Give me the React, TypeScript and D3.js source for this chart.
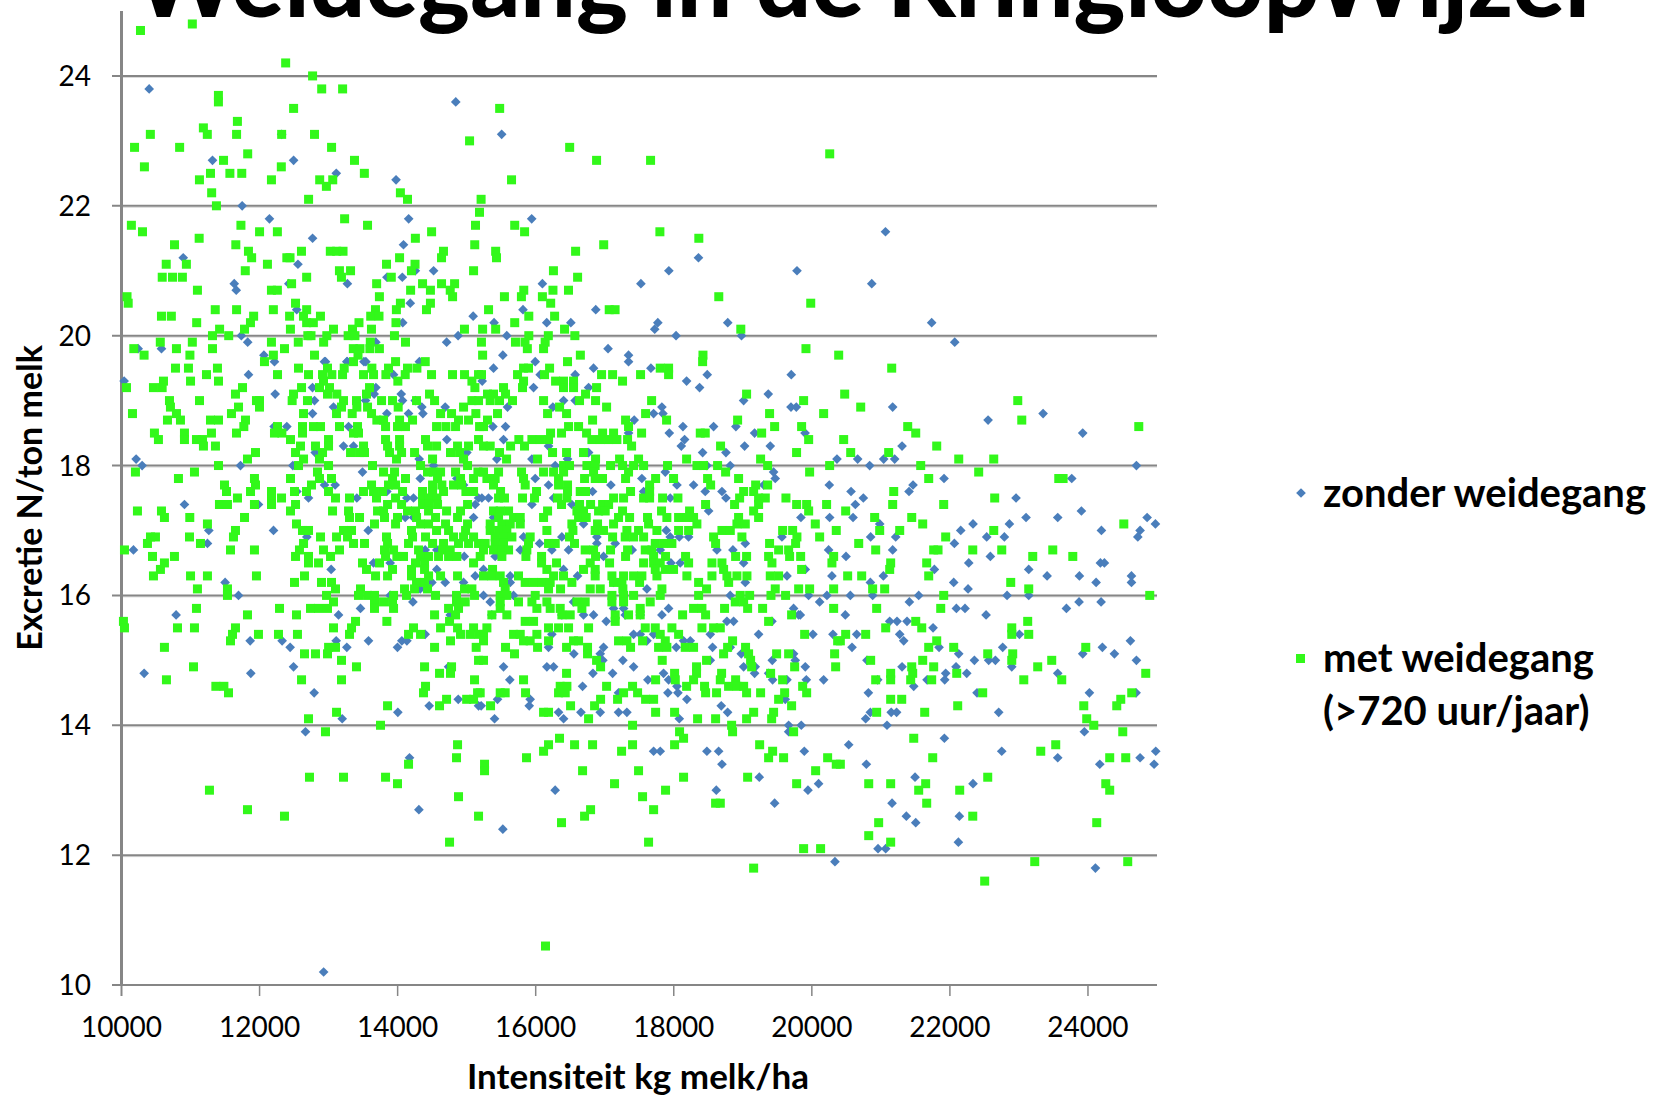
import * as d3 from "d3";

// Each row: excretie value, then the intensiteit values of the points on that level
type Row = [number, number[]];

const xTicks = [10000, 12000, 14000, 16000, 18000, 20000, 22000, 24000];
const yTicks = [10, 12, 14, 16, 18, 20, 22, 24];

const title = "Weidegang in de KringloopWijzer";
const xTitle = "Intensiteit kg melk/ha";
const yTitle = "Excretie N/ton melk";
const legendZonder = ["zonder weidegang"];
const legendMet = ["met weidegang", "(>720 uur/jaar)"];

// zonder weidegang
const zonderHoog: Row[] = [
  [23.8, [10401]], [23.6, [14842]], [23.1, [15507, 12320]], [22.7, [11318, 12493]], [22.5, [13111]],
  [22.4, [13977]], [22.0, [11748]], [21.8, [12143, 14160, 15942]], [21.6, [21067]], [21.5, [12768]],
  [21.4, [14085]], [21.2, [10894, 18358]], [21.1, [12556]], [21.0, [14257, 14521, 17929, 19785]],
  [20.9, [13845, 14068]], [20.8, [11633, 12424, 13272, 16097, 17524, 20868]], [20.7, [11662]],
  [20.5, [14183]], [20.4, [12538, 15816, 16870]], [20.3, [15094]],
  [20.2, [14074, 15397, 16160, 16509, 17769, 18782, 21736]], [20.1, [17724]],
  [20.0, [11736, 14876, 15581, 18033, 18981]], [19.9, [11828, 13684, 14710, 22070]],
  [19.8, [10241, 10579, 17048]], [19.7, [12063, 15524, 17345]],
];
const zonderMidden: Row[] = [
  [19.6, [12216, 12955, 13264, 13540, 12940, 13272, 13512, 14315, 15993, 17345]],
  [19.5, [15389, 16838, 17669]], [19.4, [11840, 13941, 16065, 16572, 18485, 19702]],
  [19.3, [10038, 15225, 18186]], [19.2, [12767, 13685, 15969, 16766, 18374]],
  [19.1, [12226, 13660, 14052, 19369]], [19.0, [12796, 13535, 14071, 14255, 16404, 16572, 19012]],
  [18.9, [13071, 14351, 14689, 15592, 16249, 17828, 19698, 19775, 21171]],
  [18.8, [12767, 13844, 14158, 14366, 17708, 17843, 23350]], [18.7, [17427, 22553]],
  [18.6, [12395, 12211, 13289, 15380, 15563, 18133, 18577, 18900]],
  [18.5, [17345, 17935, 19171, 19902, 23924]], [18.4, [14713, 15534, 18157]],
  [18.3, [13216, 13361, 16186, 18109, 19026, 19398, 21307]], [18.2, [12806, 15003, 16766, 18418, 18756]],
  [18.1, [10212, 14312, 14955, 15437, 15945, 16461, 20364, 20664, 21041, 21200]],
  [18.0, [10299, 11724, 12482, 14520, 16283, 17563, 18480, 18818, 20838, 24702]],
  [17.9, [13491, 17877, 19446]], [17.8, [14327, 14858, 15993, 17538, 19470, 21915, 23765]],
  [17.7, [12941, 13095, 14955, 16186, 17089, 18046, 18287, 19301, 20253, 21466]],
  [17.6, [12540, 13844, 16824, 17563, 18456, 18698, 20568, 21408]],
  [17.5, [12709, 13409, 14133, 14230, 15172, 15220, 15317, 16259, 17949, 18756, 20746, 22958]],
  [17.4, [10912, 11984, 15124, 15945, 16524, 20630]], [17.3, [18505, 23905]],
  [17.2, [14110, 14230, 15100, 15389, 19842, 20258, 20597, 23103, 23562, 24857]],
  [17.1, [16693, 20983, 22335, 22862, 24977]], [17.0, [11265, 12202, 13574, 17891, 22157, 24195, 24755]],
  [16.9, [12685, 15824, 16379, 16886, 17949, 18080, 18215, 19567, 20852, 21215, 22533, 22789, 24722]],
  [16.8, [11245, 16056, 16886, 17152, 19036, 22065]],
  [16.7, [10173, 14399, 14568, 15776, 16234, 16476, 17398, 17804, 18625, 18857, 20243, 21171]],
  [16.6, [14965, 15413, 16983, 20495, 22586]], [16.5, [13651, 13892, 17959, 18094, 19012, 22273, 24180, 24238]],
  [16.4, [13037, 14568, 15244, 16403, 19905, 21775, 23142]],
  [16.3, [15124, 15631, 16606, 19640, 20291, 21036, 23408, 23876, 24630]],
  [16.2, [11501, 14496, 14689, 14955, 15631, 17128, 19036, 20848, 22055, 24118, 24630]],
  [16.1, [14327, 17611, 22263]], [16.0, [11695, 13892, 15244, 15679, 18818, 19953, 20219, 20558, 20881, 21548, 22828, 23142]],
  [15.9, [14221, 15341, 16548, 20113, 21413, 23871, 24190]],
  [15.8, [13462, 17128, 17273, 17925, 19736, 22094, 22219, 23688]],
  [15.7, [10791, 13144, 14762, 15365, 16379, 16693, 16838, 17297, 17514, 17828, 19808, 19833, 20485, 22524]],
];
const zonderLaag: Row[] = [
  [15.6, [17022, 18770, 18867, 19422, 21128, 21234, 21379]], [15.5, [21756]],
  [15.4, [14399, 16234, 17418, 17514, 17708, 18529, 19229, 20016, 20306, 20650, 21273, 23007]],
  [15.3, [11864, 12327, 13110, 13578, 14061, 14134, 17611, 18142, 18239, 21331, 24615]],
  [15.2, [12443, 13264, 13998, 16186, 16983, 18036, 18562, 18818, 20582, 21843, 22765, 24209]],
  [15.1, [16553, 16935, 18978, 19736, 22128, 23924, 24383]],
  [15.0, [16973, 17263, 18529, 19427, 19760, 20799, 22355, 22562, 22659, 24702]],
  [14.9, [12492, 14738, 15534, 16162, 16259, 17418, 19012, 19180, 19905, 21307, 22089, 22896]],
  [14.8, [10328, 11873, 16829, 17114, 17852, 19171, 19374, 21939, 22244, 23562]],
  [14.7, [15625, 17625, 17925, 19432, 19640, 19920, 20171, 20954, 21669, 21925]],
  [14.6, [16679, 18046, 21476]], [14.5, [12791, 17200, 17915, 18060, 20819, 22393, 24021, 24697]],
  [14.4, [14878, 15447, 15920, 18190, 19615]], [14.3, [14457, 15172, 15210, 15906, 18688]],
  [14.2, [14003, 16331, 16655, 16935, 17200, 17321, 18780, 20848, 21150, 21228, 22707]],
  [14.1, [13197, 15404, 16404, 18080, 20780]], [14.0, [19664, 19847, 21089]], [13.9, [12665, 19664, 23948]],
  [13.8, [21920]], [13.7, [20534]], [13.6, [17708, 17804, 18480, 18650, 19891, 22751, 24982]],
  [13.5, [14172, 23562, 24755]], [13.4, [18698, 20790, 24171, 24958]], [13.2, [19239, 21495]],
  [13.1, [20098, 22335]], [13.0, [16282, 18616, 19944]], [12.8, [19461, 21162]], [12.7, [14308]],
  [12.6, [21369, 22137]], [12.5, [21505]], [12.4, [15524]], [12.2, [22123]], [12.1, [20959, 21070]],
  [11.9, [20335]], [11.8, [24108]], [10.2, [12928]],
];

// met weidegang (>720 uur/jaar)
const metHoog: Row[] = [
  [24.8, [11026]], [24.7, [10275]], [24.2, [12378]], [24.0, [12768]], [23.8, [12900, 13203]],
  [23.7, [11404]], [23.6, [11404]], [23.5, [12493, 15478]], [23.3, [11679]], [23.2, [11186]],
  [23.1, [10418, 11243, 11667, 12320, 12796]], [23.0, [15042]], [22.9, [10189, 10842, 13043, 16492]],
  [22.8, [11828, 20259]], [22.7, [11478, 13375, 16882, 17664]], [22.6, [10332, 12315]],
  [22.5, [11289, 11570, 11742, 13518]], [22.4, [11129, 12172, 12871, 13060, 15650]], [22.3, [12968]],
  [22.2, [11306, 14040]], [22.1, [12710, 14143, 15209]], [22.0, [11375]], [21.9, [15186]], [21.8, [13232]],
  [21.7, [10143, 11730, 13564, 15128, 15696]], [21.6, [10304, 12000, 12258, 14492, 15839, 17799]],
  [21.5, [11125, 14257, 18363]], [21.4, [10768, 11656, 15117, 16985]],
  [21.3, [11839, 12607, 13025, 13117, 13209, 14664, 15420, 16578]],
  [21.2, [11885, 12395, 12441, 14028, 14636, 15432]], [21.1, [10648, 10940, 12114, 13839, 14252]],
  [21.0, [11793, 13157, 13318, 14200, 15100, 16257]],
  [20.9, [10590, 10739, 10882, 12682, 13186, 13908, 16607]],
  [20.8, [12464, 13696, 14361, 14636, 14825]],
  [20.7, [11100, 12172, 12258, 14188, 14475, 14762, 15827, 16250, 16475]],
  [20.6, [10080, 13736, 14796, 15547, 15793, 16097, 18652]],
  [20.5, [10097, 12521, 14040, 14475, 16217, 19984]],
  [20.4, [11358, 11667, 12200, 12682, 13679, 13982, 14418, 15317, 17065, 17150]],
  [20.3, [10579, 10722, 11914, 12435, 12636, 12882, 13610, 13730, 15900, 16274]],
  [20.2, [11089, 11868, 12682, 12779, 13976, 15696, 13440]],
  [20.1, [11421, 11782, 12447, 13071, 13346, 13621, 14968, 15231, 15420, 16418, 18971]],
  [20.0, [11318, 11553, 12699, 12745, 12974, 13283, 13381, 13954, 15900, 16183, 16567]],
  [19.9, [10562, 11026, 12172, 12561, 12928, 13604, 14114, 15214, 15707, 15845, 16137]],
  [19.8, [10178, 10796, 11318, 12361, 13358, 13455, 13598, 13736, 15879, 16114, 19915]],
  [19.7, [10327, 10991, 12200, 12796, 13426, 15231, 16647, 18423, 20389]],
];
const metMidden: Row[] = [
  [19.6, [12071, 13361, 13970, 14400, 16461, 18418]],
  [19.5, [10782, 10970, 11390, 12564, 12984, 13226, 13627, 13868, 14143, 14279, 15824, 15896, 16201, 17804, 17925, 21157]],
  [19.4, [11231, 12260, 12709, 12912, 13047, 13202, 13506, 13651, 13830, 14110, 14491, 14795, 14969, 15172, 15215, 15737, 16128, 16954, 17114, 17519, 17925]],
  [19.3, [10608, 11000, 11405, 12926, 14003, 15076, 15824, 16288, 16403, 16548, 17258]],
  [19.2, [10072, 10463, 10589, 11753, 12608, 12868, 13013, 13593, 15119, 15534, 15809, 16403, 16548, 16882]],
  [19.1, [11651, 12492, 12984, 13119, 13549, 14462, 15302, 15389, 15563, 16722, 19055, 20476]],
  [19.0, [10695, 11130, 11955, 11999, 12472, 12694, 13216, 13404, 13767, 13926, 14274, 14535, 15076, 15172, 15341, 15476, 15664, 16114, 16635, 16867, 17679, 19881, 22983]],
  [18.9, [10709, 11695, 11999, 13187, 13409, 13564, 14008, 14955, 16346, 17027, 20708]],
  [18.8, [10159, 10796, 11593, 12637, 13115, 13342, 13622, 14622, 14781, 15133, 15447, 16172, 16447, 17592, 19388, 20171]],
  [18.7, [10666, 10854, 11289, 11405, 11796, 13699, 13796, 14028, 14216, 14882, 15027, 15302, 16824, 17302, 17896, 18925, 23041]],
  [18.6, [11772, 12260, 12622, 12781, 12883, 13158, 13419, 13825, 13998, 14114, 14564, 14699, 14839, 15187, 15244, 16476, 16621, 17345, 19461, 19852, 21389, 24736]],
  [18.5, [10477, 10912, 11303, 11666, 12216, 12323, 12622, 13361, 13433, 16215, 16374, 16737, 16969, 17128, 17534, 18384, 18456, 19273, 21505]],
  [18.4, [10535, 10912, 11086, 11173, 12448, 12999, 13825, 14028, 14404, 15172, 15756, 15945, 16065, 16186, 16814, 16935, 17055, 17176, 17331, 19954, 20461]],
  [18.3, [11187, 11361, 12593, 12810, 12999, 13506, 13854, 14028, 14433, 14564, 14868, 15027, 15244, 15341, 15636, 15838, 17389, 18678, 21809]],
  [18.2, [11941, 12521, 12912, 13318, 13448, 13520, 13883, 14057, 14245, 14766, 14897, 15476, 16244, 16447, 16693, 19779, 20563, 21113]],
  [18.1, [11825, 12637, 12868, 13984, 14506, 14955, 15578, 16027, 16867, 17215, 17490, 18186, 19258, 22128, 22635]],
  [18.0, [11405, 12564, 12999, 13636, 14332, 15013, 16404, 16490, 16742, 16862, 17084, 17258, 17418, 17563, 17910, 18336, 18432, 18635, 19360, 20258, 21577]],
  [17.9, [10202, 11057, 12839, 13796, 13955, 14433, 14520, 14622, 14839, 15163, 15244, 15462, 15795, 16114, 16259, 16404, 16838, 17345, 18751, 19968, 22417]],
  [17.8, [10825, 11926, 12448, 12868, 13042, 13926, 14114, 14578, 14911, 15100, 15293, 15413, 15824, 16331, 16708, 16862, 16968, 17302, 17737, 17997, 18490, 18939, 21693, 23577, 23640]],
  [17.7, [11492, 11941, 12752, 13622, 13868, 13970, 14506, 14641, 14810, 14926, 15389, 15848, 16331, 16461, 17650, 18534, 19186, 19360]],
  [17.6, [11521, 11869, 12173, 12506, 12680, 12999, 13506, 13651, 13781, 14071, 14361, 14506, 14665, 14989, 15100, 15491, 16012, 16461, 16645, 16722, 17374, 17650, 19012, 19157, 21186]],
  [17.5, [11680, 12173, 12318, 13100, 13303, 13694, 13970, 14361, 14448, 14569, 15462, 15548, 15809, 15983, 16317, 16452, 17128, 17273, 17563, 17650, 17838, 18060, 18954, 19229, 19326, 19625, 22649]],
  [17.4, [11419, 11535, 11926, 12173, 12521, 13854, 14057, 14361, 14448, 14578, 15013, 16374, 16635, 16795, 16969, 17056, 18461, 18881, 19229, 19780, 19925, 20214, 21171, 21910]],
  [17.3, [10231, 10579, 12448, 13057, 13289, 13709, 13796, 14143, 14259, 14448, 14709, 14911, 15389, 15486, 15607, 16172, 16597, 16693, 16911, 17007, 17258, 17823, 18229, 19157, 19954, 20490]],
  [17.2, [10622, 10989, 11782, 13303, 13448, 13810, 13998, 14274, 14549, 14868, 15462, 15679, 15776, 16114, 16621, 16732, 17200, 17360, 17620, 17900, 18070, 18191, 18287, 18939, 19229, 20910, 21447]],
  [17.1, [11245, 12535, 13665, 13970, 14332, 14448, 14694, 15013, 15341, 15510, 15631, 15776, 16524, 16896, 17128, 17635, 18335, 18915, 19036, 20050, 21606, 24519]],
  [17.0, [11651, 12622, 12709, 13216, 13332, 14201, 14564, 14738, 14984, 15341, 15462, 15582, 16162, 16539, 16862, 16983, 17321, 17490, 17756, 18070, 18215, 18698, 18819, 19577, 19722, 20354, 20983, 21273, 22635]],
  [16.9, [10420, 10492, 10985, 11622, 12883, 13115, 13274, 13839, 14216, 14404, 14810, 14955, 15100, 15413, 15534, 15655, 15920, 16490, 17114, 17297, 17418, 17563, 18577, 18987, 19784, 20113, 21939]],
  [16.8, [10376, 11144, 12637, 13361, 13520, 13854, 14158, 14506, 14665, 14882, 15027, 15172, 15268, 15413, 15534, 15896, 16186, 16283, 16562, 17732, 17853, 17973, 18606, 19388, 19765, 20679]],
  [16.7, [10043, 11579, 11926, 12578, 12926, 13158, 13810, 13941, 14303, 14651, 14762, 15244, 15389, 15510, 15607, 15872, 16717, 16838, 17084, 17331, 17587, 17683, 19519, 19664, 20925, 21765, 21828, 22331, 22751, 23490]],
  [16.6, [10449, 10767, 12521, 12709, 13028, 13825, 13989, 14085, 14332, 14448, 14593, 14738, 14858, 15196, 15510, 15858, 16085, 16867, 17302, 17708, 17881, 18171, 18896, 19055, 19374, 19678, 19838, 20316, 23200, 23780]],
  [16.5, [10622, 12709, 12854, 13491, 13738, 14259, 14390, 15100, 16085, 16302, 16790, 17070, 17563, 17708, 17804, 18215, 18553, 18698, 19422, 20291, 21142, 21664]],
  [16.4, [10564, 13549, 13926, 14201, 14390, 15375, 16162, 16693, 16862, 17732, 17877, 17997, 18722, 19852, 21128]],
  [16.3, [10463, 11000, 11245, 11955, 12651, 13680, 13854, 14201, 14448, 14622, 14868, 15244, 15365, 15486, 15751, 16259, 16403, 16862, 17104, 17273, 17418, 17538, 17756, 18190, 18553, 18770, 18915, 19060, 19398, 19519, 20519, 20722, 21693]],
  [16.2, [12506, 12897, 13042, 14274, 14390, 15534, 15848, 15969, 16090, 16210, 16524, 17128, 17249, 17505, 18360, 18795, 22881]],
  [16.1, [11100, 11535, 13100, 13462, 14100, 14245, 14433, 14969, 15076, 15558, 16186, 16360, 16790, 16935, 17263, 17828, 18475, 19470, 19809, 19968, 20316, 20881, 21055, 23142]],
  [16.0, [11535, 12970, 13433, 13564, 13665, 13941, 14129, 14549, 14853, 15114, 15486, 15582, 15993, 17104, 17273, 17418, 17804, 18360, 18963, 19099, 19408, 19620, 21910, 24895]],
  [15.9, [13071, 13665, 13796, 13926, 14853, 14979, 15486, 15751, 15945, 16162, 16597, 16717, 17104, 17273, 17659, 18891, 19012]],
  [15.8, [11086, 12289, 12738, 12854, 12984, 13665, 13941, 14738, 14882, 15486, 16017, 16210, 16355, 16669, 17514, 18287, 18408, 18736, 19070, 19287, 20316, 20939, 21867]],
  [15.7, [11825, 12535, 14535, 14839, 15365, 15582, 16379, 16500, 17152, 17345, 17514, 18128, 18461, 19707]],
];
const metLaag: Row[] = [
  [15.6, [10028, 13390, 13844, 14752, 15848, 15969, 17152, 19374, 21505, 23127]],
  [15.5, [10043, 10811, 11057, 11651, 13071, 13332, 14230, 14622, 14868, 15100, 15293, 16186, 16331, 16476, 16766, 17587, 17732, 17973, 18408, 18577, 18674, 21070, 21592, 22896]],
  [15.4, [11608, 11984, 12274, 12549, 13303, 14158, 14332, 14911, 15050, 15172, 15244, 15679, 15776, 16017, 17804, 18070, 19896, 20490, 20780, 22896, 23142]],
  [15.3, [11579, 14766, 15244, 15824, 15920, 16186, 16548, 16621, 17200, 17321, 17548, 17877, 18852, 20374, 20413, 21809]],
  [15.2, [10622, 13000, 13100, 14535, 15138, 15563, 16027, 16447, 16751, 17374, 17780, 17900, 18166, 18287, 18780, 19040, 21693, 22055, 23968]],
  [15.1, [12651, 12810, 12984, 15693, 16751, 18722, 19084, 19490, 19664, 20330, 22548, 22910]],
  [15.0, [13187, 15172, 15244, 16882, 17833, 18475, 19113, 20852, 21606, 22896, 23475]],
  [14.9, [11043, 13404, 14390, 14781, 16940, 18330, 19128, 19751, 20345, 21447, 21765, 23272]],
  [14.8, [14607, 14766, 16447, 18012, 18330, 18693, 19403, 21142, 21461, 22099, 24837]],
  [14.7, [10651, 12608, 13187, 15114, 15824, 17737, 18022, 18287, 18674, 18896, 19577, 20925, 21142, 21432, 21736, 23070, 23620]],
  [14.6, [11367, 11483, 14404, 16355, 16452, 17027, 17403, 18186, 18446, 18794, 18915, 19012, 19867]],
  [14.5, [11550, 14375, 15158, 15196, 15486, 15558, 15853, 16331, 16428, 17273, 17476, 18461, 18620, 19055, 19258, 19606, 19925, 22475, 24634]],
  [14.4, [14709, 15000, 15100, 16940, 17186, 17592, 17708, 19519, 21142, 21302, 24475]],
  [14.3, [13854, 14607, 15346, 16505, 16853, 19707, 22113, 23939, 24417]],
  [14.2, [13115, 16114, 16186, 17737, 18012, 19157, 19446, 20939, 21635]],
  [14.1, [12709, 16766, 18345, 18606, 19055, 19418, 23982]], [14.0, [13752, 17403, 18838, 24084]],
  [13.9, [12955, 18084, 18852, 19736, 24504]], [13.8, [16345, 18142, 21476]],
  [13.7, [14868, 16186, 16563, 16824, 17403, 18012, 19244, 23533]],
  [13.6, [16114, 17244, 19432, 23316]], [13.5, [14853, 15867, 19374, 19591, 20229, 21751, 24315, 24547]],
  [13.4, [14158, 15259, 20354, 20413]], [13.3, [15259, 16679, 17490, 20055]],
  [13.2, [12723, 13216, 13825, 18142, 19070, 22548]], [13.1, [13998, 17142, 19780, 20824, 21142, 21649, 24258]],
  [13.0, [11274, 17881, 21548, 22142, 24315]], [12.9, [14882, 17548]], [12.8, [18606, 18674, 21664]],
  [12.7, [11825, 16795, 17708]], [12.6, [12361, 15172, 16708, 22331]], [12.5, [16374, 20968, 24127]],
  [12.3, [20824]], [12.2, [14752, 17635, 21142]], [12.1, [19881, 20127]], [11.9, [23229, 24576]],
  [11.8, [19157]], [11.6, [22504]], [10.6, [16142]],
];

const zonderRows = [...zonderHoog, ...zonderMidden, ...zonderLaag];
const metRows = [...metHoog, ...metMidden, ...metLaag];
const toPoints = (rows: Row[]) => rows.flatMap(([y, xs]) => xs.map((x) => ({ x, y })));

const blue = "#4a7ebb";
const green = "#32f81a";
const axisGrey = "#868686";
const font = "Lato, sans-serif";

export default function App() {
  const x = d3.scaleLinear().domain([10000, 25000]).range([121.5, 1157]);
  const y = d3.scaleLinear().domain([10, 25]).range([985, 11]);
  const diamond = d3.symbol().type(d3.symbolDiamond2).size(60)();

  return (
    <svg
      width={1655}
      height={1096}
      viewBox="0 0 1655 1096"
      style={{ position: "absolute", left: 0, top: 0, background: "#fff", fontFamily: font }}
    >
      {/* title runs off the top of the slide */}
      <text x={868} y={17} textAnchor="middle" fontSize={98} fontWeight={900} fill="#000">
        {title}
      </text>

      {/* grid */}
      {yTicks.slice(1).map((t) => (
        <g key={t}>
          <line x1={121.5} x2={1157} y1={y(t) + 1.5} y2={y(t) + 1.5} stroke="#d8d8d8" strokeWidth={1} />
          <line x1={112} x2={1157} y1={y(t)} y2={y(t)} stroke={axisGrey} strokeWidth={2} />
        </g>
      ))}

      {/* axes */}
      <line x1={121.5} x2={121.5} y1={11} y2={985} stroke={axisGrey} strokeWidth={3} />
      <line x1={112} x2={1157} y1={985} y2={985} stroke={axisGrey} strokeWidth={2} />
      {xTicks.map((t) => (
        <line key={t} x1={x(t)} x2={x(t)} y1={985} y2={996} stroke={axisGrey} strokeWidth={t === 10000 ? 2 : 1.5} />
      ))}

      {/* tick labels */}
      {yTicks.map((t) => (
        <text key={t} x={91} y={y(t) + 10} textAnchor="end" fontSize={28} fill="#000">
          {t}
        </text>
      ))}
      {xTicks.map((t) => (
        <text key={t} x={x(t)} y={1037} textAnchor="middle" fontSize={28} fill="#000">
          {t}
        </text>
      ))}

      {/* marks */}
      {toPoints(zonderRows).map((d, i) => (
        <path key={i} d={diamond ?? ""} transform={`translate(${x(d.x)},${y(d.y)})`} fill={blue} />
      ))}
      {toPoints(metRows).map((d, i) => (
        <rect key={i} x={x(d.x) - 4.5} y={y(d.y) - 4.5} width={9} height={9} fill={green} />
      ))}

      {/* axis titles */}
      <text x={638} y={1089} textAnchor="middle" fontSize={35} fontWeight={700} fill="#000">
        {xTitle}
      </text>
      <text
        transform="translate(42,498) rotate(-90)"
        textAnchor="middle"
        fontSize={34}
        fontWeight={700}
        fill="#000"
      >
        {yTitle}
      </text>

      {/* legend */}
      <path d={diamond ?? ""} transform="translate(1301,493)" fill={blue} />
      <text x={1323} y={507} fontSize={40} fontWeight={700} fill="#000">
        {legendZonder[0]}
      </text>
      <rect x={1296} y={654} width={9} height={9} fill={green} />
      <text x={1323} y={672} fontSize={40} fontWeight={700} fill="#000">
        {legendMet[0]}
      </text>
      <text x={1323} y={725} fontSize={40} fontWeight={700} fill="#000">
        {legendMet[1]}
      </text>
    </svg>
  );
}
